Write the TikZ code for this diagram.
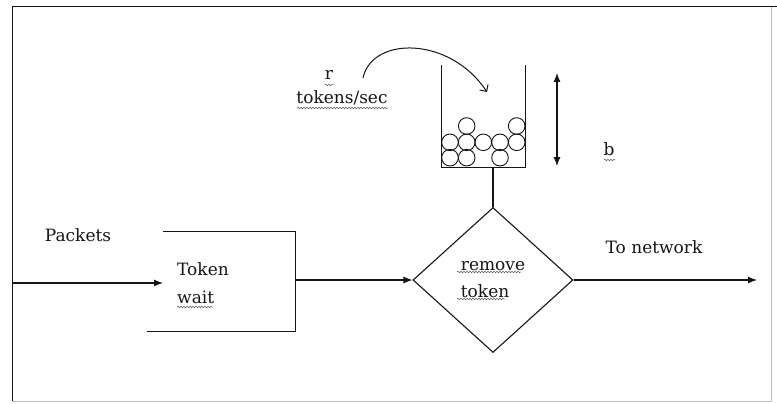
\documentclass[tikz,border=0pt]{standalone}
\usepackage{fontspec}
\setmainfont{DejaVu Serif}
\usetikzlibrary{positioning, calc, arrows.meta, shapes.geometric, decorations.pathmorphing}
\definecolor{Ink}{HTML}{151515}
\definecolor{Frame}{HTML}{BDBDBD}
\tikzset{
    txt/.style={inner sep=0pt, text=Ink, font=\fontsize{17}{28}\selectfont, align=left},
    flow/.style={-{Latex[length=9pt, width=7pt]}, line width=1.1pt, color=Ink},
    gate/.style={diamond, draw=Ink, line width=1.1pt, minimum width=160pt, minimum height=145pt, inner sep=0pt, text=Ink, font=\fontsize{17}{27}\selectfont, align=left},
    hold/.style={rectangle, minimum width=148pt, minimum height=99pt, inner sep=0pt},
    ball/.style={draw=Ink, line width=0.9pt},
    squig/.style={decorate, decoration={snake, segment length=3pt, amplitude=0.8pt}, draw=Ink!70, line width=0.5pt},
}
\begin{document}
\begin{tikzpicture}[x=1pt, y=-1pt]
    \useasboundingbox (0,0) rectangle (777,404);
    \fill[white] (0,0) rectangle (777,404);

    % frame of the scanned page
    \draw[Frame, line width=0.8pt] (12,401) -- (771,401) -- (771,7);
    \draw[Ink, line width=1pt] (12,401) -- (12,7) -- (777,7);

    % Token wait (open box)
    \node[hold] (waitbox) at (221,281.5) {};
    \draw[Ink, line width=1.1pt] ($(waitbox.north west)+(16,0)$) -- (waitbox.north east)
        -- (waitbox.south east) -- (waitbox.south west);
    \node[txt, anchor=base west] (waittxt) at (177,303) {Token\\wait};
    \node[txt, anchor=base] (packets) at (78,241) {Packets};

    % remove token
    \node[gate] (remove) at (493,280) {remove\\token};

    % bucket with tokens
    \node[hold, minimum width=83pt, minimum height=102pt] (bucket) at (483.5,116) {};
    \draw[Ink, line width=1.1pt] (bucket.north west) -- (bucket.south west)
        -- (bucket.south east) -- (bucket.north east);
    \foreach \bx/\by in {466.7/126, 516.7/126,
                         450/142.3, 466.7/142.3, 483.3/142.3, 500/142.3, 516.7/142.3,
                         450/157.7, 466.7/157.7, 500/157.7}
        \draw[ball] (\bx,\by) circle (8.3);
    \draw[Ink, line width=1.1pt] (remove.north |- bucket.south) -- (remove.north);

    % rate and depth
    \node[txt, anchor=base] (rate) at (329,80) {r};
    \node[txt, anchor=base] (unit) at (342,103) {tokens/sec};
    \node[txt, anchor=base] (depth) at (609,155) {b};
    \node[txt, anchor=base] (net) at (654,253) {To network};

    \coordinate (src) at (363,78);
    \coordinate (drop) at (487,92);
    \draw[Ink, line width=1pt, -{Straight Barb[length=5pt, width=10pt]}]
        (src) .. controls (372,36) and (450,36) .. (drop);
    \coordinate (btop) at (557,73);
    \coordinate (bbot) at (557,166);
    \draw[{Latex[length=9pt, width=7pt]}-{Latex[length=9pt, width=7pt]}, line width=1.1pt, Ink] (btop) -- (bbot);

    % connectors
    \coordinate (in) at (12,283);
    \coordinate (entry) at (163,283);
    \coordinate (out) at (757,280);
    \draw[flow] (in) -- (entry);
    \draw[flow] (waitbox.east |- remove.west) -- (remove.west);
    \draw[flow] (remove.east) -- (out);

    % spell-check underlines
    \draw[squig] (325,85) -- (334,85);
    \draw[squig] (297,108) -- (388,108);
    \draw[squig] (177,307) -- (213,307);
    \draw[squig] (457,272) -- (521,272);
    \draw[squig] (457,299) -- (505,299);
    \draw[squig] (604,160) -- (615,160);
\end{tikzpicture}
\end{document}
